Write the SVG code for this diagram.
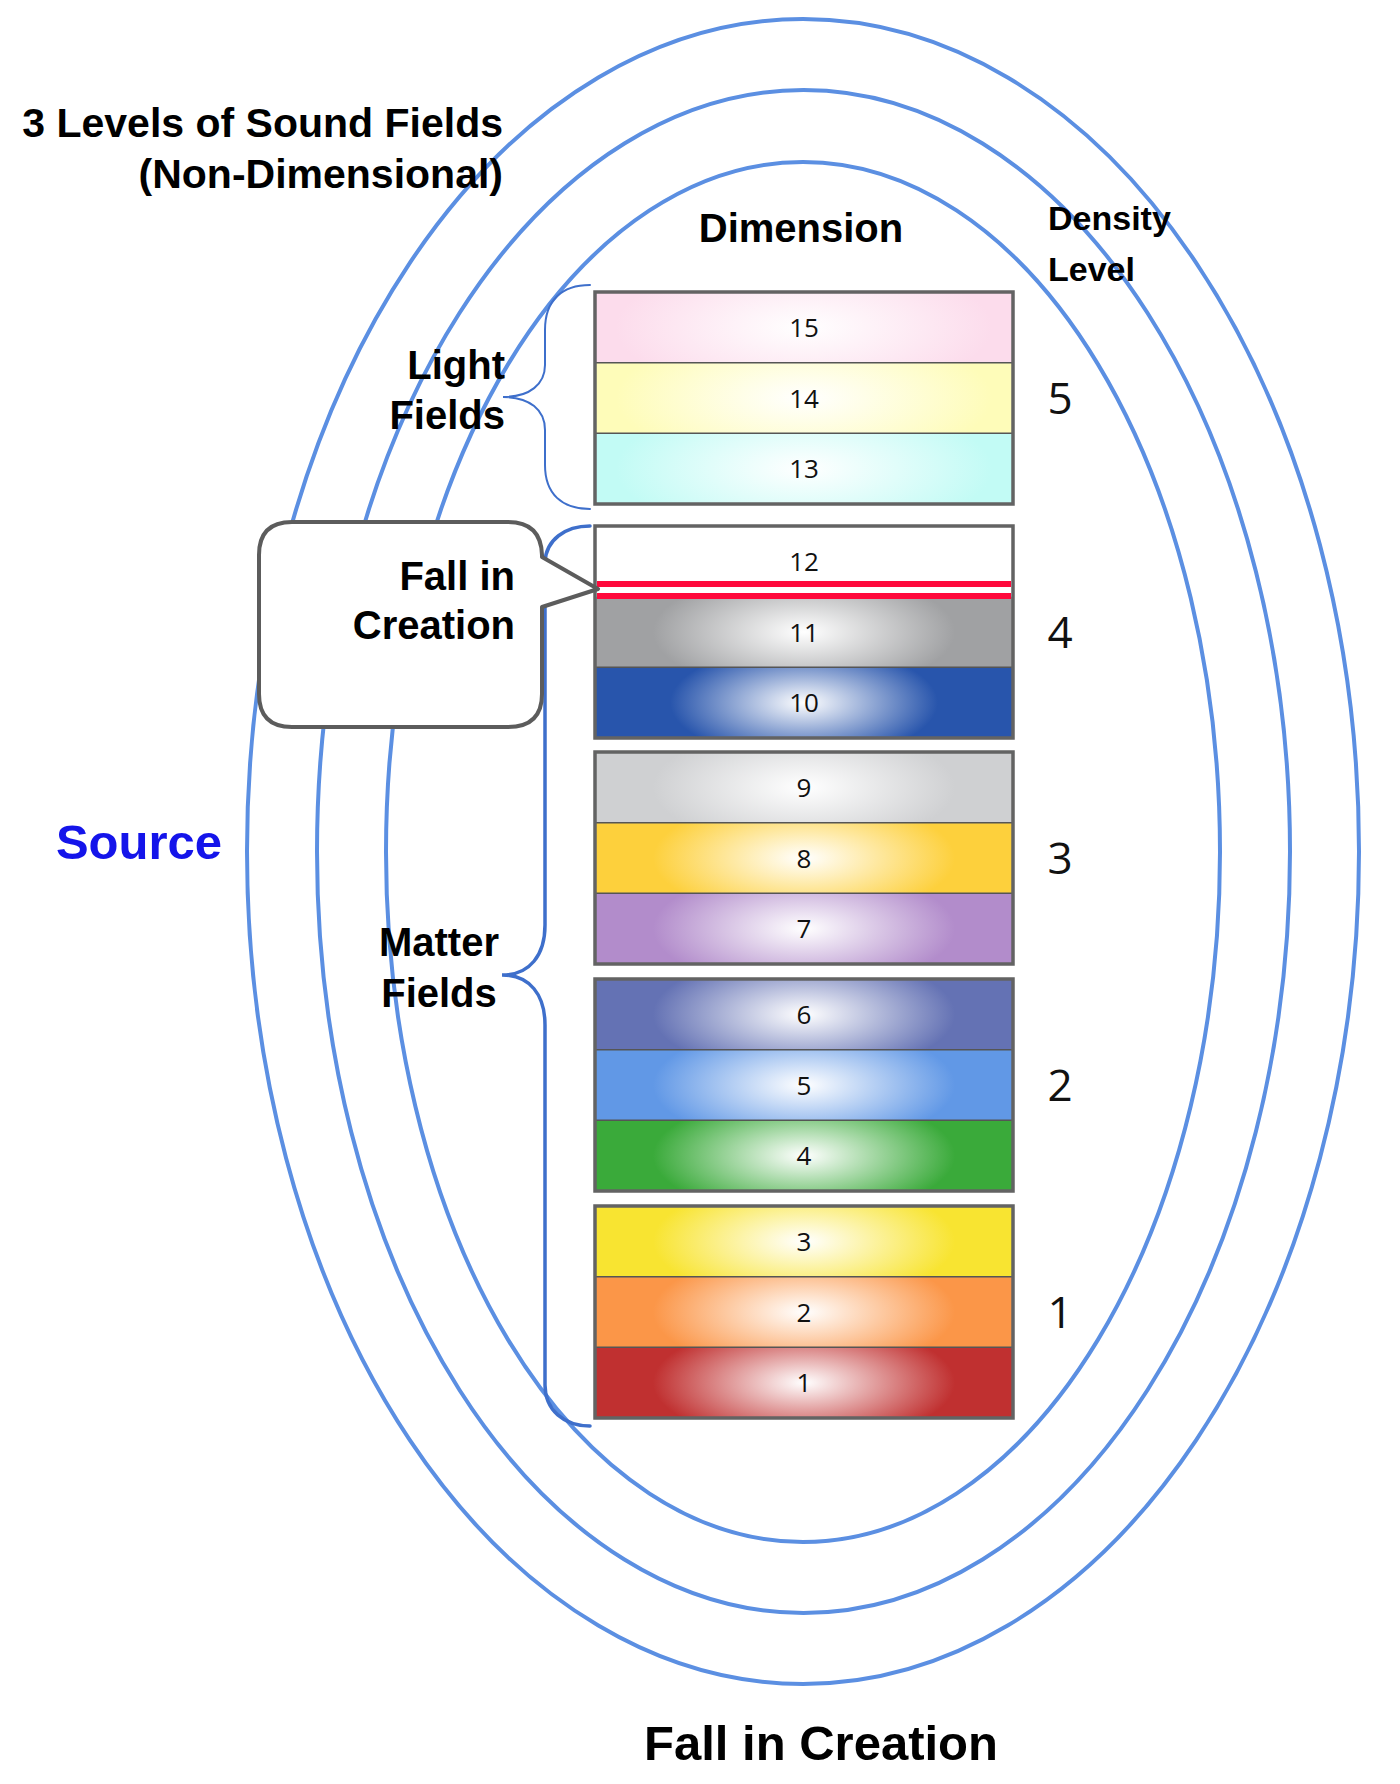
<svg xmlns="http://www.w3.org/2000/svg" width="1400" height="1784" viewBox="0 0 1400 1784">
<style>
.ell{fill:none;stroke:#5b8fe2;stroke-width:4}
.brace{fill:none;stroke:#3e6fcb;stroke-linecap:round}
.lbl{font-family:"Liberation Sans",Arial,sans-serif;font-weight:bold;fill:#000}
.num{font-family:"Open Sans","Liberation Sans",sans-serif;font-size:26px;fill:#111;text-anchor:middle}
.lvl{font-family:"Open Sans","Liberation Sans",sans-serif;font-size:44px;fill:#111;text-anchor:middle}
.grp{fill:none;stroke:#636363;stroke-width:3.5}
.sep{stroke:#555;stroke-width:1.5}
.red{stroke:#ff0a3c;stroke-width:6}
</style>
<defs>
<radialGradient id="g15" gradientTransform="translate(0.5 0.5) scale(1.0 2.2) translate(-0.5 -0.5)"><stop offset="0" stop-color="#fff"/><stop offset="0.9" stop-color="#fcdcec"/></radialGradient>
<radialGradient id="g14" gradientTransform="translate(0.5 0.5) scale(1.0 2.2) translate(-0.5 -0.5)"><stop offset="0" stop-color="#fff"/><stop offset="0.9" stop-color="#fefcb9"/></radialGradient>
<radialGradient id="g13" gradientTransform="translate(0.5 0.5) scale(1.0 2.2) translate(-0.5 -0.5)"><stop offset="0" stop-color="#fff"/><stop offset="0.9" stop-color="#c2fbf5"/></radialGradient>
<radialGradient id="g11" gradientTransform="translate(0.5 0.5) scale(0.85 2.0) translate(-0.5 -0.5)"><stop offset="0" stop-color="#fff"/><stop offset="0.85" stop-color="#a0a1a3"/></radialGradient>
<radialGradient id="g10" gradientTransform="translate(0.5 0.5) scale(0.8 2.0) translate(-0.5 -0.5)"><stop offset="0" stop-color="#fff"/><stop offset="0.8" stop-color="#2855ac"/></radialGradient>
<radialGradient id="g9" gradientTransform="translate(0.5 0.5) scale(0.85 2.0) translate(-0.5 -0.5)"><stop offset="0" stop-color="#fff"/><stop offset="0.85" stop-color="#cfd0d2"/></radialGradient>
<radialGradient id="g8" gradientTransform="translate(0.5 0.5) scale(0.85 2.0) translate(-0.5 -0.5)"><stop offset="0" stop-color="#fff"/><stop offset="0.85" stop-color="#fdd03c"/></radialGradient>
<radialGradient id="g7" gradientTransform="translate(0.5 0.5) scale(0.85 2.0) translate(-0.5 -0.5)"><stop offset="0" stop-color="#fff"/><stop offset="0.85" stop-color="#b28ccb"/></radialGradient>
<radialGradient id="g6" gradientTransform="translate(0.5 0.5) scale(0.85 2.0) translate(-0.5 -0.5)"><stop offset="0" stop-color="#fff"/><stop offset="0.85" stop-color="#6472b4"/></radialGradient>
<radialGradient id="g5" gradientTransform="translate(0.5 0.5) scale(0.85 2.0) translate(-0.5 -0.5)"><stop offset="0" stop-color="#fff"/><stop offset="0.85" stop-color="#6198e6"/></radialGradient>
<radialGradient id="g4" gradientTransform="translate(0.5 0.5) scale(0.85 2.0) translate(-0.5 -0.5)"><stop offset="0" stop-color="#fff"/><stop offset="0.85" stop-color="#3aaa3a"/></radialGradient>
<radialGradient id="g3" gradientTransform="translate(0.5 0.5) scale(0.85 2.0) translate(-0.5 -0.5)"><stop offset="0" stop-color="#fff"/><stop offset="0.85" stop-color="#f8e431"/></radialGradient>
<radialGradient id="g2" gradientTransform="translate(0.5 0.5) scale(0.85 2.0) translate(-0.5 -0.5)"><stop offset="0" stop-color="#fff"/><stop offset="0.85" stop-color="#fb9648"/></radialGradient>
<radialGradient id="g1" gradientTransform="translate(0.5 0.5) scale(0.85 2.0) translate(-0.5 -0.5)"><stop offset="0" stop-color="#fff"/><stop offset="0.85" stop-color="#c03030"/></radialGradient>
</defs>
<rect width="1400" height="1784" fill="#fff"/>

<g id="sound-fields">
<ellipse class="ell" cx="803" cy="851.5" rx="556" ry="832.5"/>
<ellipse class="ell" cx="803.5" cy="851.5" rx="486.5" ry="761.5"/>
<ellipse class="ell" cx="803" cy="852" rx="417" ry="690"/>
</g>

<g id="title">
<text class="lbl" font-size="41" text-anchor="end" x="503" y="137">3 Levels of Sound Fields</text>
<text class="lbl" font-size="41" text-anchor="end" x="503" y="188">(Non-Dimensional)</text>
</g>
<g id="dimension-header"><text class="lbl" font-size="40" text-anchor="middle" x="801" y="242">Dimension</text></g>
<g id="density-header">
<text class="lbl" font-size="34" x="1048" y="230">Density</text>
<text class="lbl" font-size="34" x="1048" y="281">Level</text>
</g>
<g id="source"><text class="lbl" font-size="49" text-anchor="end" x="222" y="859" style="fill:#1414ea">Source</text></g>
<g id="bottom-title"><text class="lbl" font-size="49" text-anchor="middle" x="821" y="1760">Fall in Creation</text></g>

<g id="level-5">
<rect x="595" y="292" width="418" height="70.67" fill="url(#g15)"/>
<rect x="595" y="362.67" width="418" height="70.67" fill="url(#g14)"/>
<rect x="595" y="433.33" width="418" height="70.67" fill="url(#g13)"/>
<line class="sep" x1="595" y1="362.67" x2="1013" y2="362.67"/>
<line class="sep" x1="595" y1="433.33" x2="1013" y2="433.33"/>
<rect class="grp" x="595" y="292" width="418" height="212"/>
<text class="num" x="804" y="336.8">15</text>
<text class="num" x="804" y="407.5">14</text>
<text class="num" x="804" y="478.2">13</text>
<text class="lvl" x="1060" y="414">5</text>
</g>

<g id="level-4">
<rect x="595" y="526" width="418" height="70.67" fill="#fff"/>
<rect x="595" y="596.67" width="418" height="70.67" fill="url(#g11)"/>
<rect x="595" y="667.33" width="418" height="70.67" fill="url(#g10)"/>
<line class="sep" x1="595" y1="667.33" x2="1013" y2="667.33"/>
<line class="red" x1="597" y1="584" x2="1011" y2="584"/>
<line class="red" x1="597" y1="596" x2="1011" y2="596"/>
<rect class="grp" x="595" y="526" width="418" height="212"/>
<text class="num" x="804" y="570.8">12</text>
<text class="num" x="804" y="641.5">11</text>
<text class="num" x="804" y="712.2">10</text>
<text class="lvl" x="1060" y="648">4</text>
</g>

<g id="level-3">
<rect x="595" y="752" width="418" height="70.67" fill="url(#g9)"/>
<rect x="595" y="822.67" width="418" height="70.67" fill="url(#g8)"/>
<rect x="595" y="893.33" width="418" height="70.67" fill="url(#g7)"/>
<line class="sep" x1="595" y1="822.67" x2="1013" y2="822.67"/>
<line class="sep" x1="595" y1="893.33" x2="1013" y2="893.33"/>
<rect class="grp" x="595" y="752" width="418" height="212"/>
<text class="num" x="804" y="796.8">9</text>
<text class="num" x="804" y="867.5">8</text>
<text class="num" x="804" y="938.2">7</text>
<text class="lvl" x="1060" y="874">3</text>
</g>

<g id="level-2">
<rect x="595" y="979" width="418" height="70.67" fill="url(#g6)"/>
<rect x="595" y="1049.67" width="418" height="70.67" fill="url(#g5)"/>
<rect x="595" y="1120.33" width="418" height="70.67" fill="url(#g4)"/>
<line class="sep" x1="595" y1="1049.67" x2="1013" y2="1049.67"/>
<line class="sep" x1="595" y1="1120.33" x2="1013" y2="1120.33"/>
<rect class="grp" x="595" y="979" width="418" height="212"/>
<text class="num" x="804" y="1023.8">6</text>
<text class="num" x="804" y="1094.5">5</text>
<text class="num" x="804" y="1165.2">4</text>
<text class="lvl" x="1060" y="1101">2</text>
</g>

<g id="level-1">
<rect x="595" y="1206" width="418" height="70.67" fill="url(#g3)"/>
<rect x="595" y="1276.67" width="418" height="70.67" fill="url(#g2)"/>
<rect x="595" y="1347.33" width="418" height="70.67" fill="url(#g1)"/>
<line class="sep" x1="595" y1="1276.67" x2="1013" y2="1276.67"/>
<line class="sep" x1="595" y1="1347.33" x2="1013" y2="1347.33"/>
<rect class="grp" x="595" y="1206" width="418" height="212"/>
<text class="num" x="804" y="1250.8">3</text>
<text class="num" x="804" y="1321.5">2</text>
<text class="num" x="804" y="1392.2">1</text>
<text class="lvl" x="1060" y="1328">1</text>
</g>

<g id="connectors">
<path class="brace" stroke-width="2" d="M590,285 C562,285 545,300 545,330 L545,365 C545,384 530,397 503,397 C530,397 545,410 545,430 L545,465 C545,494 562,509 590,509"/>
<path class="brace" stroke-width="3.5" d="M590,526 C565,526 546,540 545,562 L545,925 C545,955 530,975 502,975 C530,975 545,995 545,1025 L545,1385 C545,1410 564,1426 590,1426"/>
</g>

<g id="light-fields">
<text class="lbl" font-size="40" text-anchor="end" x="505" y="379">Light</text>
<text class="lbl" font-size="40" text-anchor="end" x="505" y="429">Fields</text>
</g>
<g id="matter-fields">
<text class="lbl" font-size="40" text-anchor="middle" x="439" y="956">Matter</text>
<text class="lbl" font-size="40" text-anchor="middle" x="439" y="1007">Fields</text>
</g>

<g id="fall-callout">
<path d="M292,522 L508,522 Q541,522 542,555 L542,557 L598,589 L542,607 L542,694 Q542,727 508,727 L292,727 Q259,727 259,694 L259,555 Q259,522 292,522 Z" fill="#fff" stroke="#5c5c5c" stroke-width="4" stroke-linejoin="round"/>
<text class="lbl" font-size="40" text-anchor="end" x="515" y="590">Fall in</text>
<text class="lbl" font-size="40" text-anchor="end" x="515" y="639">Creation</text>
</g>
</svg>
